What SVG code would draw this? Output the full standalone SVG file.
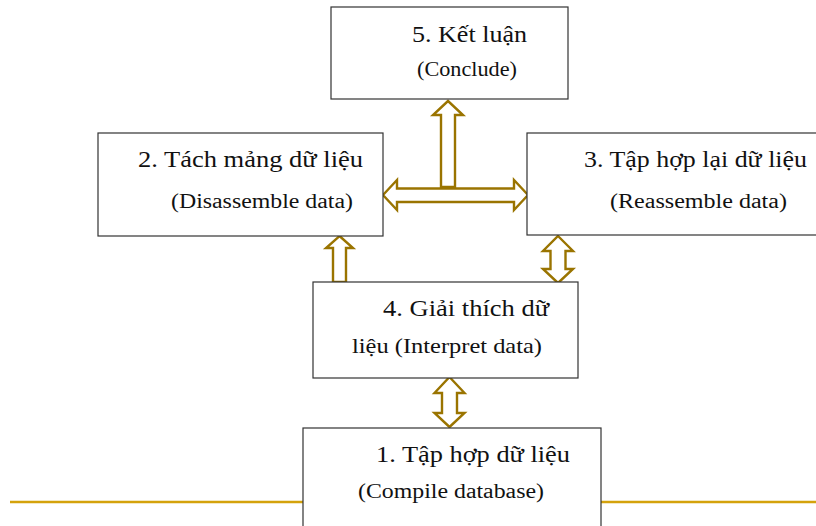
<svg xmlns="http://www.w3.org/2000/svg" width="816" height="526" viewBox="0 0 816 526">
  <style>
    .box { fill: #ffffff; stroke: #333333; stroke-width: 1.2; }
    .arrow { fill: #ffffff; stroke: #9a7400; stroke-width: 2.4; stroke-linejoin: miter; }
    .rule { stroke: #d4a20c; stroke-width: 2.5; }
  </style>
  <rect width="816" height="526" fill="#ffffff"/>

  <g id="footer-rule">
    <line class="rule" x1="10" y1="502" x2="303" y2="502"/>
    <line class="rule" x1="601" y1="502" x2="816" y2="502"/>
  </g>

  <g id="connectors">
    <polygon class="arrow" points="383,195 397,180 397,188.5 514,188.5 514,180 528,195 514,210 514,202 397,202 397,210"/>
    <polygon class="arrow" points="448,101 463,115 455,115 455,187 441,187 441,115 433,115"/>
    <polygon class="arrow" points="339.5,236 353,248 346,248 346,282 333,282 333,248 326,248"/>
    <polygon class="arrow" points="558,236 573,251 565.5,251 565.5,269 573,269 558,283 543,269 550.5,269 550.5,251 543,251"/>
    <polygon class="arrow" points="449.5,377 464.5,393 457,393 457,413 464.5,413 449.5,427 434.5,413 442,413 442,393 434.5,393"/>
  </g>

  <g id="node-5">
    <rect class="box" x="331" y="7" width="237" height="92"/>
    <text x="412" y="42" font-family="Times New Roman" font-size="22.5" fill="#111111" textLength="115" lengthAdjust="spacingAndGlyphs">5. Kết luận</text>
    <text x="417" y="76" font-family="Times New Roman" font-size="20" fill="#111111" textLength="100" lengthAdjust="spacingAndGlyphs">(Conclude)</text>
  </g>

  <g id="node-2">
    <rect class="box" x="98" y="133" width="285" height="103"/>
    <text x="138" y="167" font-family="Times New Roman" font-size="22.5" fill="#111111" textLength="225" lengthAdjust="spacingAndGlyphs">2. Tách mảng dữ liệu</text>
    <text x="171" y="208" font-family="Times New Roman" font-size="20" fill="#111111" textLength="182" lengthAdjust="spacingAndGlyphs">(Disassemble data)</text>
  </g>

  <g id="node-3">
    <rect class="box" x="527" y="133" width="300" height="102"/>
    <text x="584" y="167" font-family="Times New Roman" font-size="22.5" fill="#111111" textLength="223" lengthAdjust="spacingAndGlyphs">3. Tập hợp lại dữ liệu</text>
    <text x="610" y="208" font-family="Times New Roman" font-size="20" fill="#111111" textLength="177" lengthAdjust="spacingAndGlyphs">(Reassemble data)</text>
  </g>

  <g id="node-4">
    <rect class="box" x="313" y="282" width="265" height="96"/>
    <text x="383" y="316" font-family="Times New Roman" font-size="22.5" fill="#111111" textLength="166" lengthAdjust="spacingAndGlyphs">4. Giải thích dữ</text>
    <text x="352" y="353" font-family="Times New Roman" font-size="21.5" fill="#111111" textLength="190" lengthAdjust="spacingAndGlyphs">liệu (Interpret data)</text>
  </g>

  <g id="node-1">
    <rect class="box" x="303" y="428" width="298" height="110"/>
    <text x="376" y="462" font-family="Times New Roman" font-size="22.5" fill="#111111" textLength="194" lengthAdjust="spacingAndGlyphs">1. Tập hợp dữ liệu</text>
    <text x="358" y="498" font-family="Times New Roman" font-size="20" fill="#111111" textLength="186" lengthAdjust="spacingAndGlyphs">(Compile database)</text>
  </g>
</svg>
